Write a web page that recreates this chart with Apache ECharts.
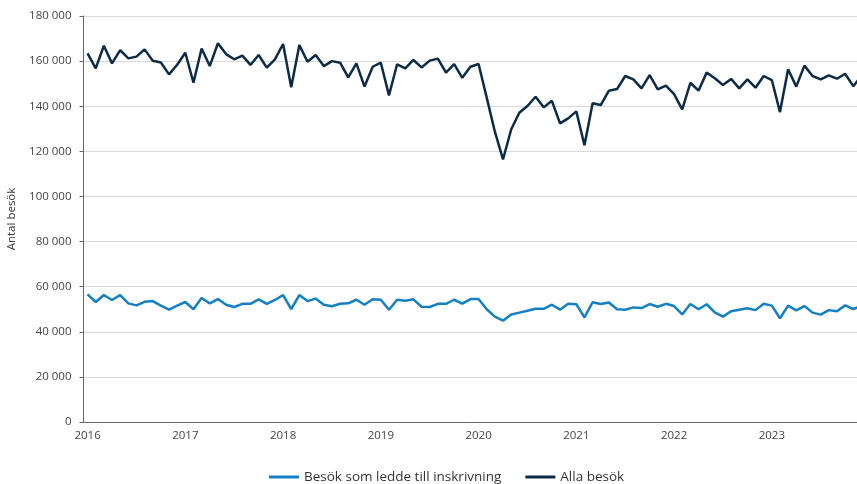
<!DOCTYPE html>
<html><head><meta charset="utf-8">
<script src="https://cdn.jsdelivr.net/npm/echarts@6/dist/echarts.min.js"></script>
<style>html,body{margin:0;padding:0;background:#fff}#c{width:857px;height:484px}</style>
</head><body><div id="c"></div>
<script>
const years = [2016,2017,2018,2019,2020,2021,2022,2023];
const months = [];
years.forEach(y => { for (let m = 1; m <= 12; m++) months.push(y + '-' + (m < 10 ? '0' + m : m)); });

const inskrivning = [
 56.6,53.2,56.3,54.1,56.3,52.6,51.7,53.3,53.6,51.6,49.8,51.6,
 53.2,50.0,55.0,52.6,54.5,52.0,51.0,52.4,52.4,54.4,52.4,54.1,
 56.3,50.1,56.3,53.6,54.7,52.0,51.3,52.4,52.6,54.2,52.0,54.4,
 54.2,49.8,54.2,53.8,54.4,51.1,51.0,52.4,52.4,54.2,52.5,54.5,
 54.5,50.0,46.7,44.9,47.7,48.5,49.3,50.2,50.2,52.0,49.8,52.4,
 52.2,46.4,53.1,52.3,53.0,50.0,49.8,50.8,50.5,52.3,51.1,52.4,
 51.4,47.7,52.3,50.0,52.2,48.6,46.7,49.1,49.8,50.4,49.6,52.4,
 51.6,46.0,51.6,49.5,51.4,48.5,47.6,49.6,49.1,51.7,50.1,51.5
].map(v => Math.round(v * 1000));

const alla = [
 163.4,156.8,166.8,159.0,164.9,161.2,162.0,165.2,160.2,159.4,154.1,158.4,
 163.7,150.4,165.6,157.8,167.9,163.1,160.8,162.4,158.3,162.7,157.1,160.8,
 167.6,148.4,167.1,159.7,162.7,157.8,160.0,159.3,152.8,159.0,148.7,157.5,
 159.3,144.8,158.6,156.8,160.5,157.2,160.2,161.1,154.9,158.7,152.6,157.5,
 158.7,143.8,128.7,116.4,129.7,137.1,140.1,144.2,139.5,142.4,132.4,134.6,
 137.7,122.7,141.3,140.5,146.9,147.6,153.4,151.9,147.9,153.8,147.5,149.1,
 145.4,138.6,150.4,146.9,154.9,152.4,149.4,152.1,147.9,151.9,148.2,153.4,
 151.6,137.4,156.4,148.7,158.0,153.4,151.9,153.7,152.2,154.4,148.9,153.5
].map(v => Math.round(v * 1000));

const seriesNames = ['Besök som ledde till inskrivning', 'Alla besök'];
const colors = ['#1480c4', '#0c2b46'];
const yTicks = { min: 0, max: 180000, interval: 20000 };

const fmt = v => String(v).replace(/\B(?=(\d{3})+(?!\d))/g, ' ');
const font = '"Open Sans", "Noto Sans", sans-serif';

const chart = echarts.init(document.getElementById('c'));
chart.setOption({
  animation: false,
  textStyle: { fontFamily: font },
  color: colors,
  grid: { left: 83.5, width: 782, top: 16, height: 406, containLabel: false, outerBoundsMode: 'none' },
  legend: {
    top: 465, left: 264,
    icon: 'rect', itemWidth: 30, itemHeight: 3, itemGap: 24,
    textStyle: { fontSize: 13.5, color: '#333', fontFamily: font },
    data: seriesNames
  },
  xAxis: {
    type: 'category', data: months, boundaryGap: true,
    axisLine: { lineStyle: { color: '#666', width: 1 } },
    axisTick: { interval: 0, length: 4, lineStyle: { color: '#666' } },
    axisLabel: {
      interval: 11, color: '#444', fontSize: 11.5, margin: 8,
      formatter: v => v.slice(0, 4)
    },
    splitLine: { show: false }
  },
  yAxis: {
    type: 'value', min: yTicks.min, max: yTicks.max, interval: yTicks.interval,
    name: 'Antal besök', nameLocation: 'middle', nameGap: 63, nameRotate: 90,
    nameTextStyle: { fontSize: 11.5, color: '#333' },
    axisLine: { show: true, lineStyle: { color: '#666', width: 1 } },
    axisTick: { show: true, length: 4, lineStyle: { color: '#666' } },
    axisLabel: { color: '#444', fontSize: 11.5, margin: 12, formatter: fmt },
    splitLine: { lineStyle: { color: '#d9d9d9', width: 1 } }
  },
  series: [
    { name: seriesNames[0], type: 'line', data: inskrivning, symbol: 'none',
      lineStyle: { width: 2.5, color: colors[0] } },
    { name: seriesNames[1], type: 'line', data: alla, symbol: 'none',
      lineStyle: { width: 2.5, color: colors[1] } }
  ]
});
</script></body></html>
